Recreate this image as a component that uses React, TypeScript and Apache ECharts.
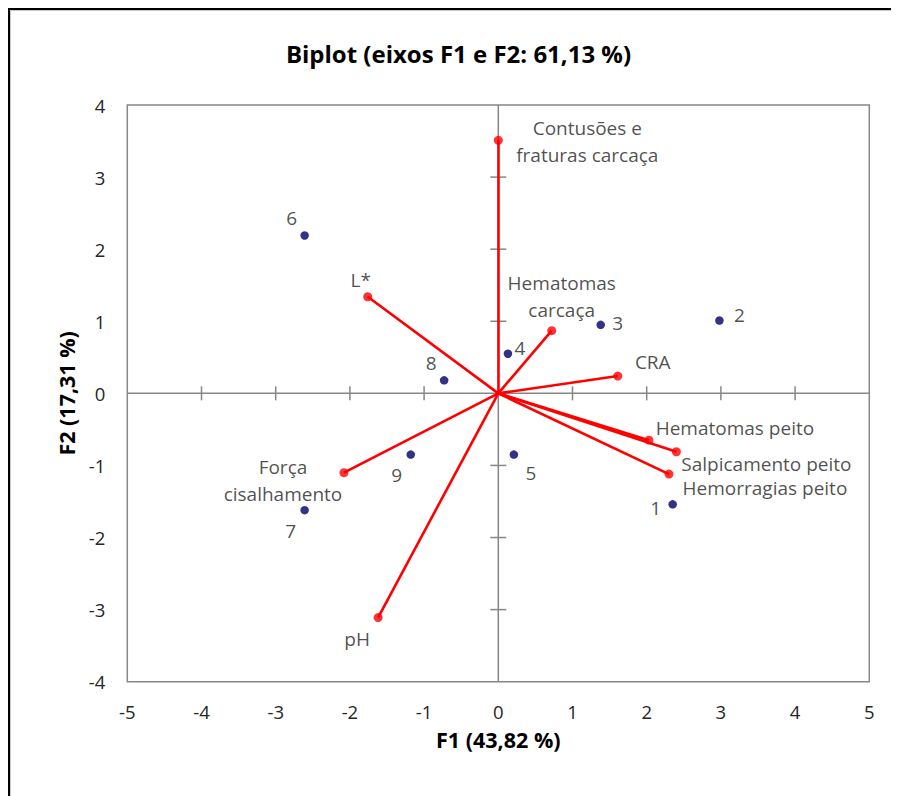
import React, { useEffect, useRef } from "react";
import * as echarts from "echarts";

// ---- data ----
const titleText = "Biplot (eixos F1 e F2: 61,13 %)";
const xAxisName = "F1 (43,82 %)";
const yAxisName = "F2 (17,31 %)";
const xMin = -5, xMax = 5, yMin = -4, yMax = 4;

const obsNames = ["1", "2", "3", "4", "5", "6", "7", "8", "9"];
const obsX = [2.35, 2.98, 1.38, 0.13, 0.21, -2.61, -2.61, -0.73, -1.18];
const obsY = [-1.54, 1.01, 0.95, 0.55, -0.85, 2.19, -1.62, 0.18, -0.85];

const varNames = [
  "Contusões e\nfraturas carcaça",
  "Hematomas\ncarcaça",
  "CRA",
  "Hematomas peito",
  "Salpicamento peito",
  "Hemorragias peito",
  "L*",
  "Força\ncisalhamento",
  "pH",
];
const varX = [0.0, 0.72, 1.61, 2.03, 2.4, 2.3, -1.76, -2.08, -1.62];
const varY = [3.51, 0.87, 0.24, -0.65, -0.81, -1.12, 1.34, -1.1, -3.11];

const xTickMarks = [-4, -3, -2, -1, 1, 2, 3, 4];
const yTickMarks = [-3, -2, -1, 1, 2, 3];
const zeroLines = [
  [-5, 0, 5, 0],
  [0, -4, 0, 4],
];

// ---- label placement (styles, not data) ----
const obsLabelOffsets = [
  [-17, 4], [20, -6], [17, -2], [12, -6], [17, 18],
  [-13, -17], [-14, 21], [-13, -17], [-14, 20],
];
const varLabelOffsets = [
  [89, 1], [10, -34], [35, -14], [86, -12], [90, 12],
  [96, 14], [-7, -17], [-61, 8], [-21, 21],
];

const FONT = "'Open Sans', 'Noto Sans', sans-serif";
const GREY = "#878787";
const LABEL = "#1f1f1f";

export default function App() {
  const ref = useRef<HTMLDivElement>(null);
  useEffect(() => {
    if (!ref.current) return;
    const chart = echarts.init(ref.current, undefined, { renderer: "svg" });
    const option: any = {
      animation: false,
      textStyle: { fontFamily: FONT },
      graphic: [
        {
          type: "text",
          x: 447.5,
          y: 42,
          style: {
            text: titleText,
            fontFamily: FONT,
            fontSize: 24,
            fontWeight: "bold",
            fill: "#000",
            textAlign: "center",
            textVerticalAlign: "middle",
          },
        },
      ],
      grid: {
        left: 116.3,
        top: 94,
        right: 29.7,
        bottom: 114.3,
        show: true,
        borderColor: GREY,
        borderWidth: 1.5,
        containLabel: false,
        outerBoundsMode: "none",
      },
      xAxis: {
        type: "value",
        min: xMin,
        max: xMax,
        interval: 1,
        position: "bottom",
        axisLine: { show: false, onZero: false },
        axisTick: { show: false },
        splitLine: { show: false },
        axisLabel: { color: "#262626", fontSize: 18.5, fontFamily: FONT, margin: 20 },
        name: xAxisName,
        nameLocation: "middle",
        nameGap: 47,
        nameTextStyle: { fontSize: 21.5, fontWeight: "bold", color: "#000", fontFamily: FONT },
      },
      yAxis: {
        type: "value",
        min: yMin,
        max: yMax,
        interval: 1,
        position: "left",
        axisLine: { show: false, onZero: false },
        axisTick: { show: false },
        splitLine: { show: false },
        axisLabel: { color: "#262626", fontSize: 18.5, fontFamily: FONT, margin: 22 },
        name: yAxisName,
        nameLocation: "middle",
        nameRotate: 90,
        nameGap: 50,
        nameTextStyle: { fontSize: 21.5, fontWeight: "bold", color: "#000", fontFamily: FONT },
      },
      series: [
        {
          type: "custom",
          name: "zero",
          data: zeroLines,
          silent: true,
          z: 1,
          renderItem: (params: any, api: any) => {
            const a = api.coord([api.value(0), api.value(1)]);
            const b = api.coord([api.value(2), api.value(3)]);
            return {
              type: "line",
              shape: { x1: a[0], y1: a[1], x2: b[0], y2: b[1] },
              style: { stroke: GREY, lineWidth: 1.5 },
            };
          },
        },
        {
          type: "custom",
          name: "xticks",
          data: xTickMarks.map((v) => [v, 0]),
          silent: true,
          z: 1,
          renderItem: (params: any, api: any) => {
            const p = api.coord([api.value(0), api.value(1)]);
            return {
              type: "line",
              shape: { x1: p[0], y1: p[1] - 7, x2: p[0], y2: p[1] + 7 },
              style: { stroke: GREY, lineWidth: 1.5 },
            };
          },
        },
        {
          type: "custom",
          name: "yticks",
          data: yTickMarks.map((v) => [0, v]),
          silent: true,
          z: 1,
          renderItem: (params: any, api: any) => {
            const p = api.coord([api.value(0), api.value(1)]);
            return {
              type: "line",
              shape: { x1: p[0] - 8, y1: p[1], x2: p[0] + 8, y2: p[1] },
              style: { stroke: GREY, lineWidth: 1.5 },
            };
          },
        },
        {
          type: "lines",
          coordinateSystem: "cartesian2d",
          z: 3,
          silent: true,
          lineStyle: { color: "#ff0000", width: 2.6, opacity: 1 },
          data: varX.map((x, i) => ({ coords: [[0, 0], [x, varY[i]]] })),
        },
        {
          type: "scatter",
          name: "vars",
          z: 4,
          symbol: "circle",
          symbolSize: 9,
          itemStyle: { color: "#ff0000" },
          label: {
            show: true,
            position: "inside",
            formatter: (p: any) => p.name,
            color: LABEL,
            fontSize: 19,
            fontFamily: FONT,
            lineHeight: 26.5,
            align: "center",
          },
          data: varX.map((x, i) => ({
            name: varNames[i],
            value: [x, varY[i]],
            label: { offset: varLabelOffsets[i] },
          })),
        },
        {
          type: "scatter",
          name: "obs",
          z: 5,
          symbol: "circle",
          symbolSize: 8.5,
          itemStyle: { color: "#000068" },
          label: {
            show: true,
            position: "inside",
            formatter: (p: any) => p.name,
            color: LABEL,
            fontSize: 19,
            fontFamily: FONT,
          },
          data: obsX.map((x, i) => ({
            name: obsNames[i],
            value: [x, obsY[i]],
            label: { offset: obsLabelOffsets[i] },
          })),
        },
      ],
    };
    chart.setOption(option);
    return () => chart.dispose();
  }, []);

  return (
    <div
      style={{
        width: 891,
        height: 788,
        borderTop: "2px solid #000",
        borderLeft: "2px solid #000",
        boxSizing: "border-box",
        background: "#fff",
      }}
    >
      <div
        style={{
          width: 889,
          height: 786,
          borderTop: "1px solid #c8c8c8",
          borderLeft: "1px solid #c8c8c8",
          boxSizing: "border-box",
        }}
      >
        <div ref={ref} style={{ width: 888, height: 785 }} />
      </div>
    </div>
  );
}
